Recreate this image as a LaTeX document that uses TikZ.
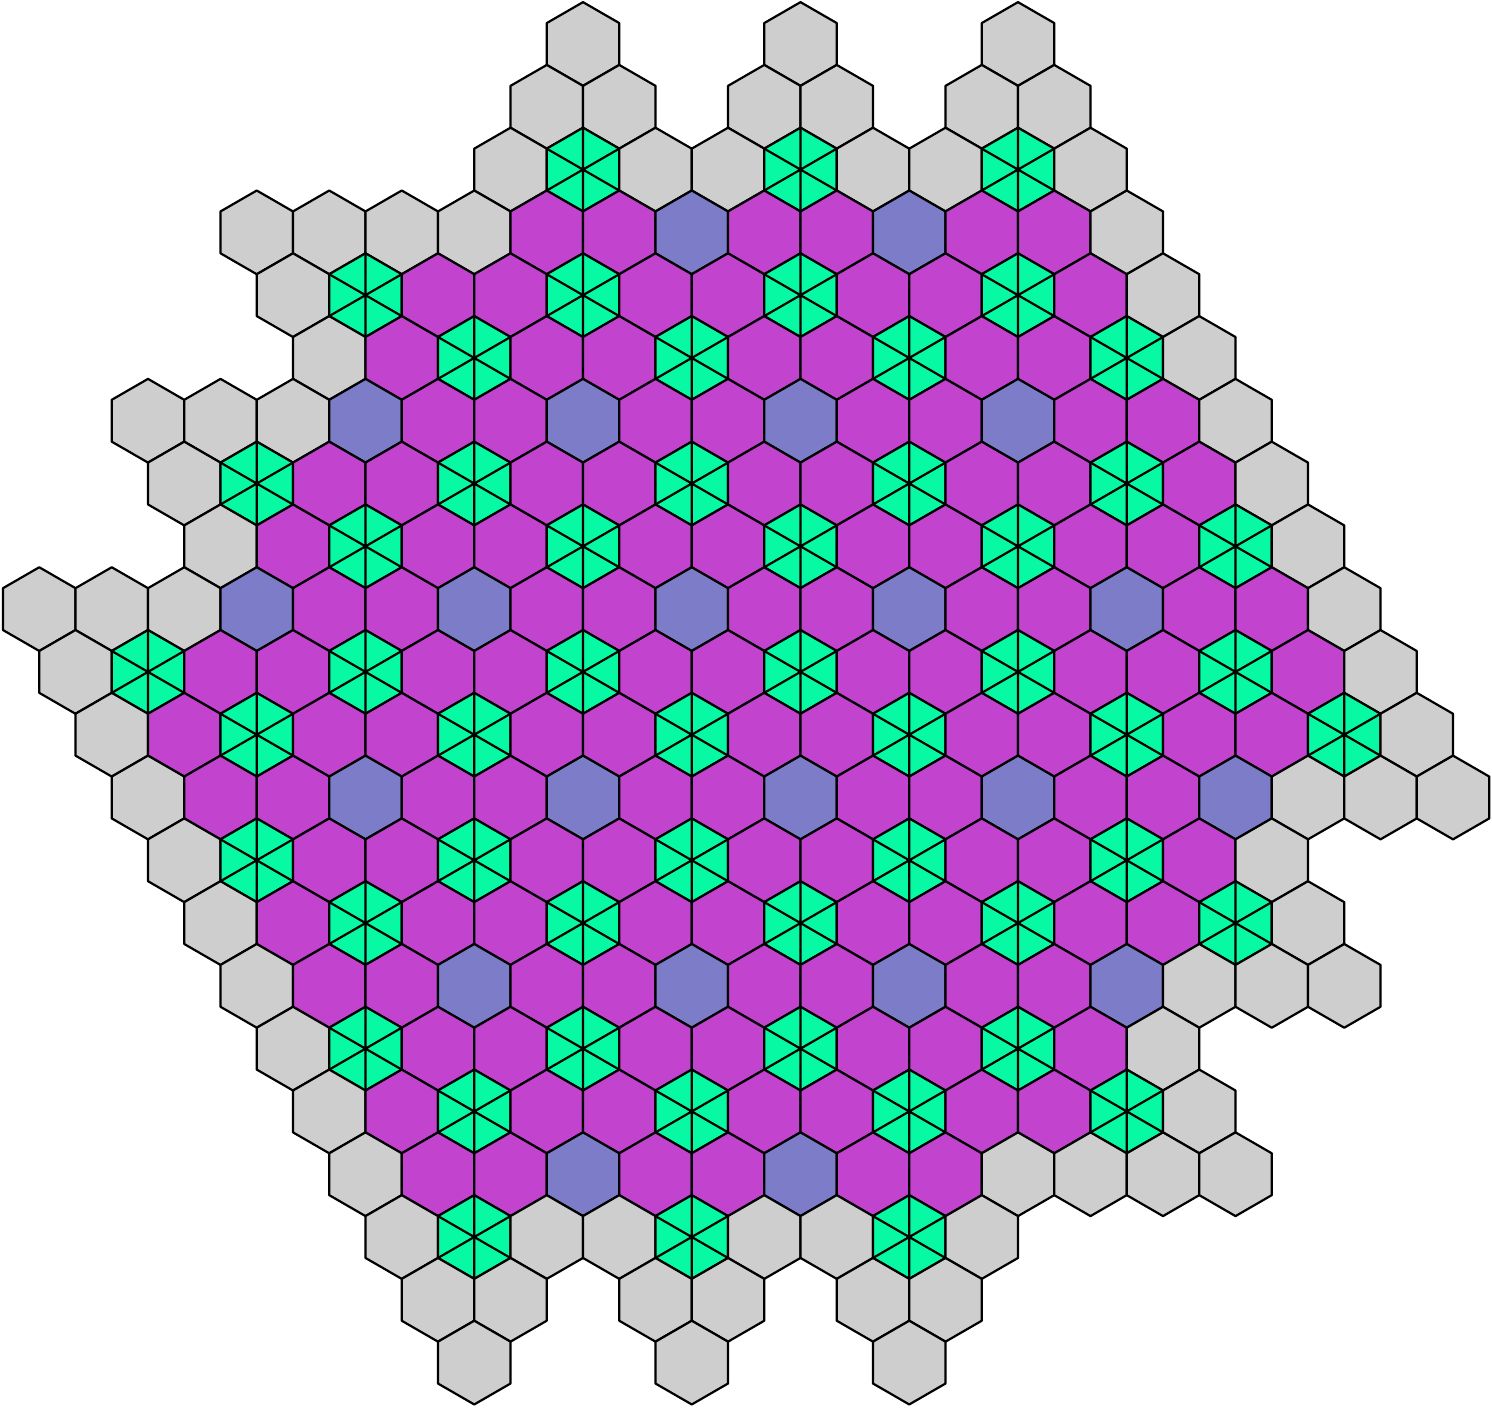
\documentclass[tikz,border=0pt]{standalone}
\definecolor{hgray}{HTML}{CECECE}
\definecolor{hpurp}{HTML}{C243CE}
\definecolor{hblue}{HTML}{7C7CC8}
\definecolor{hgreen}{HTML}{07F9A4}
\begin{document}
\begin{tikzpicture}[x=1pt,y=-1pt,
  hexcell/.style={draw=black,line width=2.2pt,line join=round},
  hexspoke/.style={draw=black,line width=2.2pt,line cap=round}]
\useasboundingbox (0,0) rectangle (1492,1408);
\def\R{41.86}
\foreach \r/\qs/\cells in {
  0/0/{g,n,n,g,n,n,g},
  1/-1/{g,g,n,g,g,n,g,g},
  2/-2/{g,t,g,g,t,g,g,t,g},
  3/-6/{g,g,g,g,p,p,b,p,p,b,p,p,g},
  4/-6/{g,t,p,p,t,p,p,t,p,p,t,p,g},
  5/-6/{g,p,t,p,p,t,p,p,t,p,p,t,g},
  6/-9/{g,g,g,b,p,p,b,p,p,b,p,p,b,p,p,g},
  7/-9/{g,t,p,p,t,p,p,t,p,p,t,p,p,t,p,g},
  8/-9/{g,p,t,p,p,t,p,p,t,p,p,t,p,p,t,g},
  9/-12/{g,g,g,b,p,p,b,p,p,b,p,p,b,p,p,b,p,p,g},
  10/-12/{g,t,p,p,t,p,p,t,p,p,t,p,p,t,p,p,t,p,g},
  11/-12/{g,p,t,p,p,t,p,p,t,p,p,t,p,p,t,p,p,t,g},
  12/-12/{g,p,p,b,p,p,b,p,p,b,p,p,b,p,p,b,g,g,g},
  13/-12/{g,t,p,p,t,p,p,t,p,p,t,p,p,t,p,g},
  14/-12/{g,p,t,p,p,t,p,p,t,p,p,t,p,p,t,g},
  15/-12/{g,p,p,b,p,p,b,p,p,b,p,p,b,g,g,g},
  16/-12/{g,t,p,p,t,p,p,t,p,p,t,p,g},
  17/-12/{g,p,t,p,p,t,p,p,t,p,p,t,g},
  18/-12/{g,p,p,b,p,p,b,p,p,g,g,g,g},
  19/-12/{g,t,g,g,t,g,g,t,g},
  20/-12/{g,g,n,g,g,n,g,g},
  21/-12/{g,n,n,g,n,n,g}} {
  \foreach \c [count=\i from 0] in \cells {
    \pgfmathsetmacro\cx{583+72.5*(\qs+\i)+36.25*\r}
    \pgfmathsetmacro\cy{44+62.79*\r}
    \if n\c\else
      \if g\c\def\fc{hgray}\fi
      \if p\c\def\fc{hpurp}\fi
      \if b\c\def\fc{hblue}\fi
      \if t\c\def\fc{hgreen}\fi
      \path[hexcell,fill=\fc] (\cx,\cy) +(30:\R) -- +(90:\R) -- +(150:\R)
        -- +(210:\R) -- +(270:\R) -- +(330:\R) -- cycle;
      \if t\c
        \path[hexspoke] (\cx,\cy) +(30:\R) -- +(210:\R)
          +(90:\R) -- +(270:\R) +(150:\R) -- +(330:\R);
      \fi
    \fi
  }
}
\end{tikzpicture}
\end{document}
